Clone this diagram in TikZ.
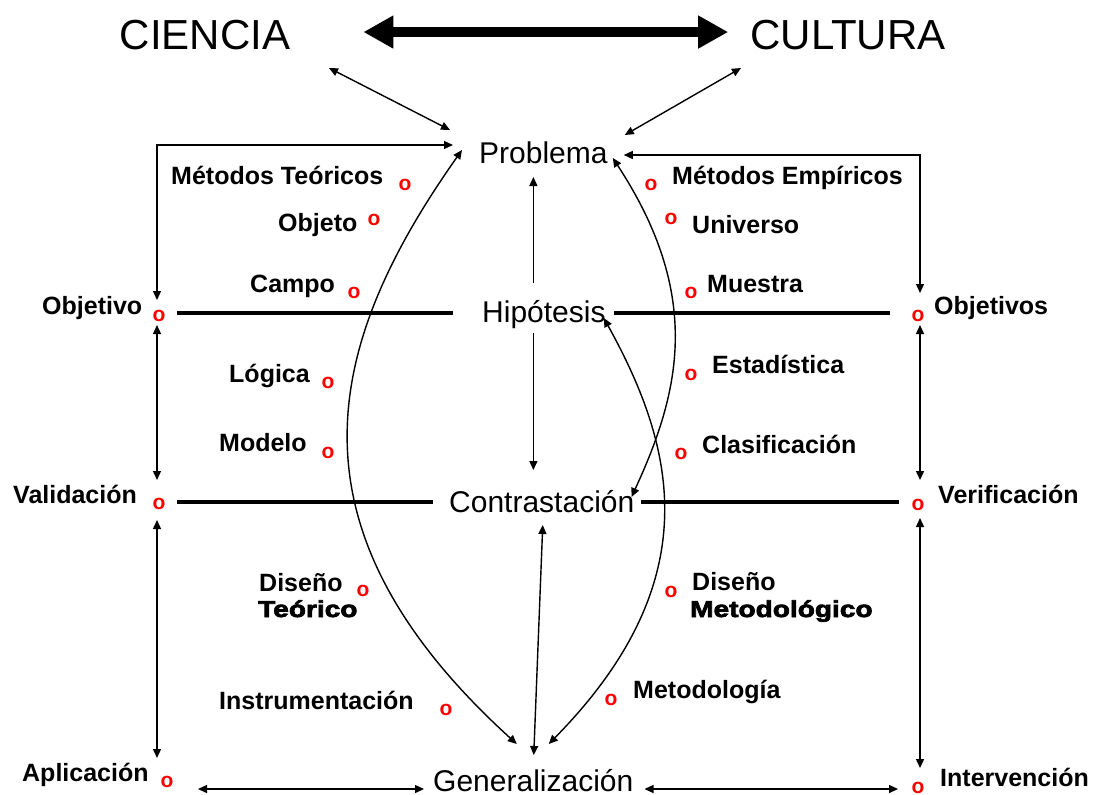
\documentclass[tikz,border=0pt]{standalone}
\usepackage{fontspec}
\setmainfont{Liberation Sans}
\newfontfamily\heavyfont[FakeStretch=1.22,FakeBold=3]{Liberation Sans Bold}
\usetikzlibrary{arrows.meta}
\tikzset{
  mytip/.tip={Triangle[length=9pt,width=8pt]},
  bigtip/.tip={Triangle[length=30pt,width=31pt]},
}
\begin{document}
\begin{tikzpicture}[x=1pt,y=-1pt,
  lbl/.style={anchor=base west,inner sep=0pt,font=\fontsize{25}{30}\selectfont\bfseries},
  hvy/.style={anchor=base west,inner sep=0pt,font=\fontsize{23}{28}\heavyfont},
  mainlbl/.style={anchor=base west,inner sep=0pt,font=\fontsize{30}{36}\selectfont},
  ttl/.style={anchor=base,inner sep=0pt,font=\fontsize{42}{50}\selectfont},
  redo/.style={inner sep=0pt,text=red,font=\fontsize{21}{25}\selectfont\bfseries},
  conn/.style={line width=1.4pt},
  hbar/.style={line width=3.5pt}]
\fill[white] (0,0) rectangle (1098,795);
\useasboundingbox (0,0) rectangle (1098,795);

% main nodes
\node[ttl] (cien) at (205,49) {CIENCIA};
\node[ttl] (cult) at (848,49) {CULTURA};
\node[mainlbl] (prob) at (479,163) {Problema};
\node[mainlbl] (hip) at (482,322) {Hipótesis};
\node[mainlbl] (contr) at (449,512) {Contrastación};
\node[mainlbl] (gen) at (433,791) {Generalización};

% left labels
\node[lbl] (mt) at (171,184) {Métodos Teóricos};
\node[lbl] (objeto) at (278,231) {Objeto};
\node[lbl] (campo) at (250,292) {Campo};
\node[lbl] (objetivo) at (42,314) {Objetivo};
\node[lbl] (logica) at (229,382) {Lógica};
\node[lbl] (modelo) at (219,451) {Modelo};
\node[lbl] (valid) at (13,503) {Validación};
\node[lbl] (disT) at (259,591) {Diseño};
\node[hvy] (teor) at (258,617) {Teórico};
\node[lbl] (instr) at (219,709) {Instrumentación};
\node[lbl] (aplic) at (22,781) {Aplicación};

% right labels
\node[lbl] (me) at (672,184) {Métodos Empíricos};
\node[lbl] (univ) at (692,233) {Universo};
\node[lbl] (muestra) at (707,292) {Muestra};
\node[lbl] (objetivos) at (934,314) {Objetivos};
\node[lbl] (estad) at (712,373) {Estadística};
\node[lbl] (clasif) at (702,453) {Clasificación};
\node[lbl] (verif) at (938,503) {Verificación};
\node[lbl] (disM) at (692,590) {Diseño};
\node[hvy] (metodico) at (690,617) {Metodológico};
\node[lbl] (metodol) at (633,698) {Metodología};
\node[lbl] (interv) at (940,786) {Intervención};

% red markers
\node[redo] (oMT) at (405,185) {o};
\node[redo] (oObjeto) at (374,220) {o};
\node[redo] (oCampo) at (354,293) {o};
\node[redo] (oObj) at (159,316) {o};
\node[redo] (oLog) at (328,383) {o};
\node[redo] (oMod) at (328,453) {o};
\node[redo] (oVal) at (159,504) {o};
\node[redo] (oDT) at (363,591) {o};
\node[redo] (oInstr) at (446,710) {o};
\node[redo] (oApl) at (167,782) {o};
\node[redo] (oME) at (651,185) {o};
\node[redo] (oUniv) at (671,219) {o};
\node[redo] (oMue) at (691,293) {o};
\node[redo] (oObjs) at (918,316) {o};
\node[redo] (oEst) at (691,375) {o};
\node[redo] (oCla) at (681,454) {o};
\node[redo] (oVer) at (918,505) {o};
\node[redo] (oDM) at (671,592) {o};
\node[redo] (oMet) at (611,700) {o};
\node[redo] (oInt) at (918,788) {o};

% top thick arrow
\draw[line width=9.5pt,bigtip-bigtip] ([shift={(73,-2.5)}]cien.east) -- ([shift={(-22,-2.5)}]cult.west);
\draw[conn,mytip-mytip] ([shift={(124,19)}]cien.base) -- ([shift={(-29,-33)}]prob.base west);
\draw[conn,mytip-mytip] ([shift={(-107,19)}]cult.base) -- ([shift={(17,-28)}]prob.base east);

% frames
\draw[conn,mytip-mytip] ([shift={(-26,-18)}]prob.base west) -| ([shift={(-2,-16)}]oObj.center);
\draw[conn,mytip-mytip] ([shift={(16,-8)}]prob.base east) -| ([shift={(2,-23)}]oObjs.center);

% verticals
\draw[conn,mytip-mytip] ([shift={(-2,9)}]oObj.center) -- ([shift={(-2,-24)}]oVal.center);
\draw[conn,mytip-mytip] ([shift={(-2,16)}]oVal.center) -- ([shift={(-10,-24)}]oApl.center);
\draw[conn,mytip-mytip] ([shift={(2,9)}]oObjs.center) -- ([shift={(2,-25)}]oVer.center);
\draw[conn,mytip-mytip] ([shift={(2,13)}]oVer.center) -- ([shift={(2,-20)}]oInt.center);

% bottom
\draw[conn,mytip-mytip] ([shift={(31,7)}]oApl.center) -- ([shift={(-9,-2)}]gen.base west);
\draw[conn,mytip-mytip] ([shift={(11,-2)}]gen.base east) -- ([shift={(-20,1)}]oInt.center);

% horizontal bars
\draw[hbar] ([shift={(18,-3)}]oObj.center) -- ([shift={(-29,-9)}]hip.base west);
\draw[hbar] ([shift={(8,-9)}]hip.base east) -- ([shift={(-28,-3)}]oObjs.center);
\draw[hbar] ([shift={(18,-2)}]oVal.center) -- ([shift={(-16,-10)}]contr.base west);
\draw[hbar] ([shift={(6,-10)}]contr.base east) -- ([shift={(-19,-3)}]oVer.center);

% center arrows
\draw[conn,-mytip] ([shift={(-10.5,-39)}]hip.base) -- ++(0,-106);
\draw[conn,-mytip] ([shift={(-10.5,11)}]hip.base) -- ++(0,137);
\draw[conn,mytip-mytip] ([shift={(1,13)}]contr.base) -- ([shift={(0.5,-36)}]gen.base);

% curves
\draw[conn,mytip-mytip] ([shift={(-17,-13)}]prob.base west) .. controls +(-139,197) and +(-236.5,-215) .. ([shift={(-16.5,-47)}]gen.base);
\draw[conn,mytip-mytip] ([shift={(5,-5)}]prob.base east) .. controls +(90.5,138.3) and +(48.4,-104.9) .. ([shift={(-3,-15)}]contr.base east);
\draw[conn,mytip-mytip] ([shift={(-2,-4)}]hip.base east) .. controls +(72,130) and +(160,-162.7) .. ([shift={(15.5,-47)}]gen.base);
\end{tikzpicture}
\end{document}
